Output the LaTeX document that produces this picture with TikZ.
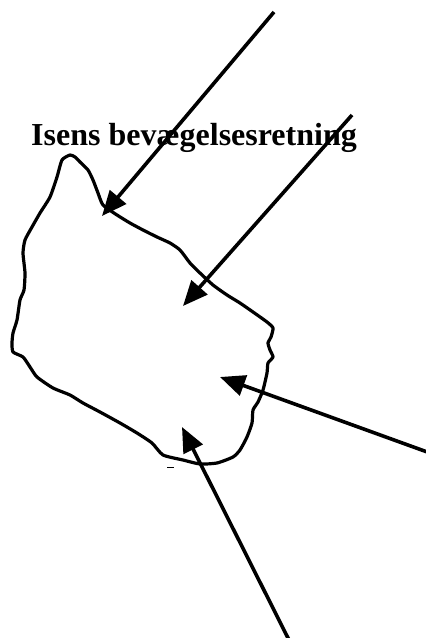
\documentclass[tikz,border=0pt]{standalone}
\usepackage{fontspec}
\setmainfont{Liberation Serif}
\usetikzlibrary{arrows.meta}
\begin{document}
\begin{tikzpicture}[x=1pt,y=-1pt,
  flow/.style={line width=3.6pt,-{Triangle[length=25pt,width=21pt]}},
  edge/.style={line width=3.2pt,line join=round,line cap=round}]
\useasboundingbox (0,0) rectangle (426,638);
\node[anchor=base west,inner sep=0pt,font=\fontsize{32}{36}\selectfont\bfseries] (title) at (31,145) {Isens bevægelsesretning};
% ice outline
\draw[edge] plot[smooth cycle,tension=0.35] coordinates {
 (70,155) (75,157) (80,162) (88,170) (93,180) (98,193) (103,205) (117,215) (130,223) (143,230)
 (157,237) (170,243) (180,250) (190,263) (200,273) (213,285) (227,295) (240,303) (253,312)
 (267,322) (273,328) (271,337) (268,343) (270,350) (273,357) (268,363) (267,373) (263,390)
 (258,402) (253,410) (252,423) (247,437) (240,450) (233,457) (217,463) (200,464) (183,460)
 (163,455) (152,443) (137,433) (120,423) (100,412) (83,403) (70,395) (53,388) (37,377)
 (30,367) (23,357) (13,352) (12,343) (13,333) (17,320) (20,300) (24,290) (25,273) (23,253)
 (25,240) (32,227) (40,213) (50,197) (57,177) (62,160)};
\draw[line width=1pt] (167,467) -- (174,467);
% arrows
\coordinate (a1s) at (274,12);  \coordinate (a1e) at (102,216);
\coordinate (a2s) at (352,115); \coordinate (a2e) at (183,306);
\coordinate (a3s) at (430,453); \coordinate (a3e) at (220,377);
\coordinate (a4s) at (289,640); \coordinate (a4e) at (182,427);
\draw[flow] (a1s) -- (a1e);
\draw[flow] (a2s) -- (a2e);
\draw[flow] (a3s) -- (a3e);
\draw[flow] (a4s) -- (a4e);
\end{tikzpicture}
\end{document}
